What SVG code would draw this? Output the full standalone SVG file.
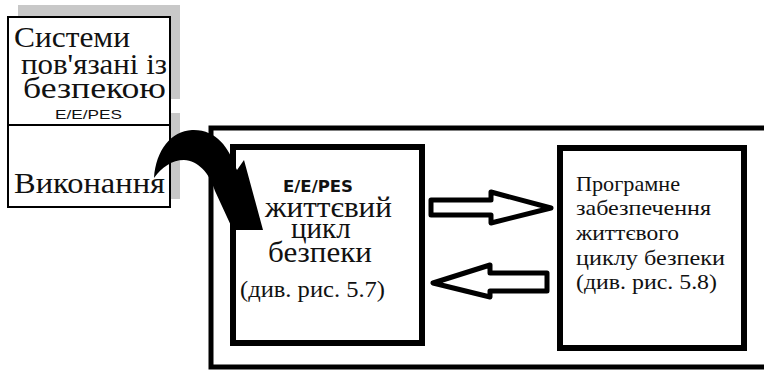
<svg xmlns="http://www.w3.org/2000/svg" width="764" height="376" viewBox="0 0 764 376">
  <style>
    .serif { font-family: 'Liberation Serif', 'DejaVu Serif', 'Times New Roman', serif; fill: #111; }
    .sans { font-family: 'Liberation Sans', Arial, sans-serif; fill: #111; }
    .bold { font-family: 'DejaVu Sans', 'Open Sans', sans-serif; font-weight: bold; fill: #111; }
    .shadow { fill: #c8c8c8; stroke: none; }
    .thin { fill: #fff; stroke: #000; stroke-width: 2; }
    .thick { fill: #fff; stroke: #000; stroke-width: 6; }
    .frame { fill: none; stroke: #000; stroke-width: 5; }
    .hollow { fill: #fff; stroke: #000; stroke-width: 5; stroke-linejoin: round; }
  </style>

  <rect width="764" height="376" fill="#fff"/>

  <!-- outer frame, running off the right edge -->
  <g id="frame">
    <path class="frame" d="M770,128 H211 V367 H770"/>
  </g>

  <!-- systems block with its two cells -->
  <g id="systems">
    <rect class="shadow" x="18" y="5" width="162" height="94"/>
    <rect class="shadow" x="170" y="113" width="10" height="86"/>
    <rect class="thin" x="8" y="17" width="162" height="108"/>
    <rect class="thin" x="8" y="125" width="162" height="82"/>
    <text class="serif" x="14" y="47" font-size="29" textLength="116" lengthAdjust="spacingAndGlyphs">Системи</text>
    <text class="serif" x="21" y="74" font-size="29" textLength="146" lengthAdjust="spacingAndGlyphs">пов'язані із</text>
    <text class="serif" x="23" y="98" font-size="29" textLength="143" lengthAdjust="spacingAndGlyphs">безпекою</text>
    <text class="sans" x="55" y="119" font-size="13" textLength="67" lengthAdjust="spacingAndGlyphs">E/E/PES</text>
    <text class="serif" x="14" y="193" font-size="29" textLength="151" lengthAdjust="spacingAndGlyphs">Виконання</text>
  </g>

  <!-- lifecycle block -->
  <g id="lifecycle">
    <rect class="thick" x="233" y="147" width="189" height="196"/>
    <text class="bold" x="283" y="192" font-size="16" textLength="70" lengthAdjust="spacingAndGlyphs">E/E/PES</text>
    <text class="serif" x="265" y="217" font-size="29" textLength="127" lengthAdjust="spacingAndGlyphs">життєвий</text>
    <text class="serif" x="291" y="238" font-size="29">цикл</text>
    <text class="serif" x="268" y="262" font-size="29" textLength="104" lengthAdjust="spacingAndGlyphs">безпеки</text>
    <text class="serif" x="240" y="297" font-size="24" textLength="145" lengthAdjust="spacingAndGlyphs">(див. рис. 5.7)</text>
  </g>

  <!-- software block -->
  <g id="software">
    <rect class="thick" x="560" y="148" width="184" height="200"/>
    <text class="serif" x="576" y="191" font-size="21" textLength="104" lengthAdjust="spacingAndGlyphs">Програмне</text>
    <text class="serif" x="576" y="215" font-size="21" textLength="135" lengthAdjust="spacingAndGlyphs">забезпечення</text>
    <text class="serif" x="576" y="240" font-size="21" textLength="103" lengthAdjust="spacingAndGlyphs">життєвого</text>
    <text class="serif" x="576" y="265" font-size="21" textLength="149" lengthAdjust="spacingAndGlyphs">циклу безпеки</text>
    <text class="serif" x="576" y="289" font-size="21" textLength="141" lengthAdjust="spacingAndGlyphs">(див. рис. 5.8)</text>
  </g>

  <g id="connectors">
    <!-- curved arrow from the execution cell into the lifecycle block -->
    <path fill="#000" d="M154,178 C156,150 171,131 192,130 C216,129 229,148 235,166 L237,170 L244,160 L263,230 L233,230 L215,191 C209,172 198,161 184,160 C172,160 162,167 154,178 Z"/>
    <!-- hollow arrow to the right -->
    <path class="hollow" d="M431,200 H491 V192 L551,208 L491,223 V215 H431 Z"/>
    <!-- hollow arrow to the left -->
    <path class="hollow" d="M547,273 H490 V265 L433,283 L490,297 V291 H547 Z"/>
  </g>
</svg>
